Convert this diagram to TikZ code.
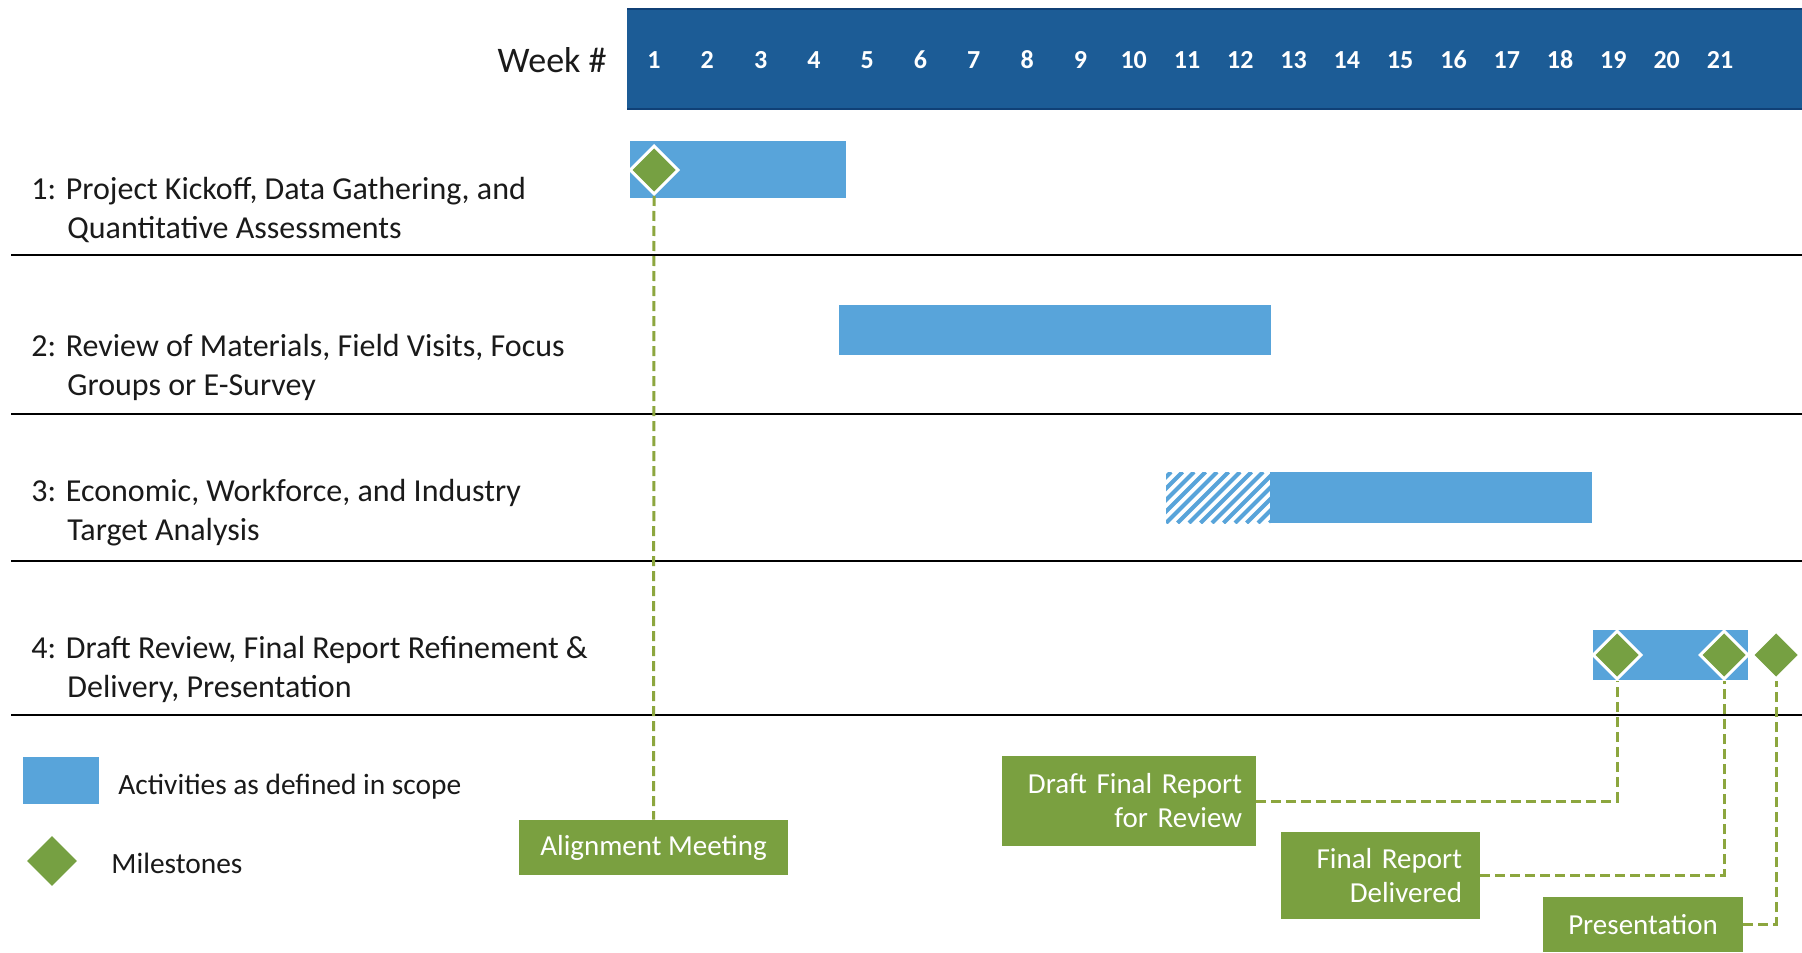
\documentclass[tikz,border=0pt]{standalone}
\usepackage{fontspec}
\setmainfont{Carlito}
\usetikzlibrary{shapes.geometric}

\definecolor{headblue}{RGB}{28,92,150}
\definecolor{headedge}{RGB}{16,64,118}
\definecolor{barblue}{RGB}{88,164,218}
\definecolor{msgreen}{RGB}{118,160,66}
\definecolor{boxgreen}{RGB}{122,160,64}
\definecolor{dashgreen}{RGB}{140,166,62}
\definecolor{textdark}{RGB}{26,26,26}

\begin{document}
\begin{tikzpicture}[x=0.5pt,y=-0.5pt,
  rowlabel/.style={anchor=west, align=left, inner sep=0pt, text=textdark,
    font=\fontsize{16}{19.5}\selectfont},
  weeklabel/.style={text=textdark, inner sep=0pt, font=\fontsize{18}{21}\selectfont},
  weeknum/.style={text=white, inner sep=0pt, font=\bfseries\fontsize{13}{15}\selectfont},
  legendtext/.style={anchor=west, inner sep=0pt, text=textdark,
    font=\fontsize{14.7}{17}\selectfont},
  callout/.style={fill=boxgreen, text=white, inner sep=0pt,
    font=\fontsize{14.5}{17}\selectfont},
  milestone/.style={diamond, fill=msgreen, draw=white, line width=1.5pt,
    minimum width=24.5pt, minimum height=24.5pt, inner sep=0pt},
  legendmark/.style={diamond, fill=msgreen, minimum width=25pt,
    minimum height=25pt, inner sep=0pt},
  conn/.style={draw=dashgreen, line width=1.5pt, dash pattern=on 5pt off 2.5pt},
  bar/.style={fill=barblue},
  sepline/.style={line width=1pt, draw=black}]

\useasboundingbox (0,0) rectangle (1802,952);
\fill[white] (0,0) rectangle (1802,952);

% header band with week numbers
\fill[headblue] (627,8) rectangle (1802,110);
\draw[headedge, line width=1pt] (627,9) -- (1802,9);
\draw[headedge, line width=1pt] (627,109) -- (1802,109);
\node[weeklabel, anchor=east] (weekhdr) at (607,60) {Week \#};
\foreach \n in {1,...,21}
  \node[weeknum] (w\n) at ({654+(\n-1)*53.3},60) {\n};

% row separators
\foreach \y in {255,414,561,715}
  \draw[sepline] (11,\y) -- (1802,\y);

% task labels
\node[rowlabel] (t1) at (31,210) {1: Project Kickoff, Data Gathering, and\\\hspace*{18pt}Quantitative Assessments};
\node[rowlabel] (t2) at (31,367) {2: Review of Materials, Field Visits, Focus\\\hspace*{18pt}Groups or E-Survey};
\node[rowlabel] (t3) at (31,513) {3: Economic, Workforce, and Industry\\\hspace*{18pt}Target Analysis};
\node[rowlabel] (t4) at (31,669) {4: Draft Review, Final Report Refinement \&\\\hspace*{18pt}Delivery, Presentation};

% activity bars
\fill[bar] (630,141) rectangle (846,198);
\fill[bar] (839,305) rectangle (1271,355);
\begin{scope}
  \clip (1166,472) rectangle (1270,523);
  \foreach \i in {-5,...,10}
    \draw[barblue, line width=2pt] ({1166+\i*11.5},523) -- ++(51,-51);
\end{scope}
\fill[bar] (1270,472) rectangle (1592,523);
\fill[bar] (1593,630) rectangle (1748,680);

% milestones
\node[milestone] (m1) at (654,170) {};
\node[milestone] (m2) at (1617,655) {};
\node[milestone] (m3) at (1724,655) {};
\node[milestone] (m4) at (1776,655) {};

% milestone callouts
\node[callout, minimum width=134.5pt, minimum height=27.5pt] (align) at (653.5,847.5) {Alignment Meeting};
\node[callout, minimum width=127pt, minimum height=45pt, text width=113pt, align=right] (draft) at (1129,801) {Draft Final Report\\for Review};
\node[callout, minimum width=99.5pt, minimum height=43.5pt, text width=81.5pt, align=right] (final) at (1380.5,875.5) {Final Report\\Delivered};
\node[callout, minimum width=100pt, minimum height=27.5pt] (pres) at (1643,924.5) {Presentation};

% connectors
\draw[conn] (m1.south) -- (align.north);
\draw[conn] (draft.east) -| (m2.south);
\draw[conn] (final.east) -| (m3.south);
\draw[conn] (pres.east) -| (m4.south);

% legend
\fill[bar] (23,757) rectangle (99,804);
\node[legendtext] (lg1) at (118,787) {Activities as defined in scope};
\node[legendmark] (lgm) at (52,861) {};
\node[legendtext] (lg2) at (111,863) {Milestones};

\end{tikzpicture}
\end{document}
